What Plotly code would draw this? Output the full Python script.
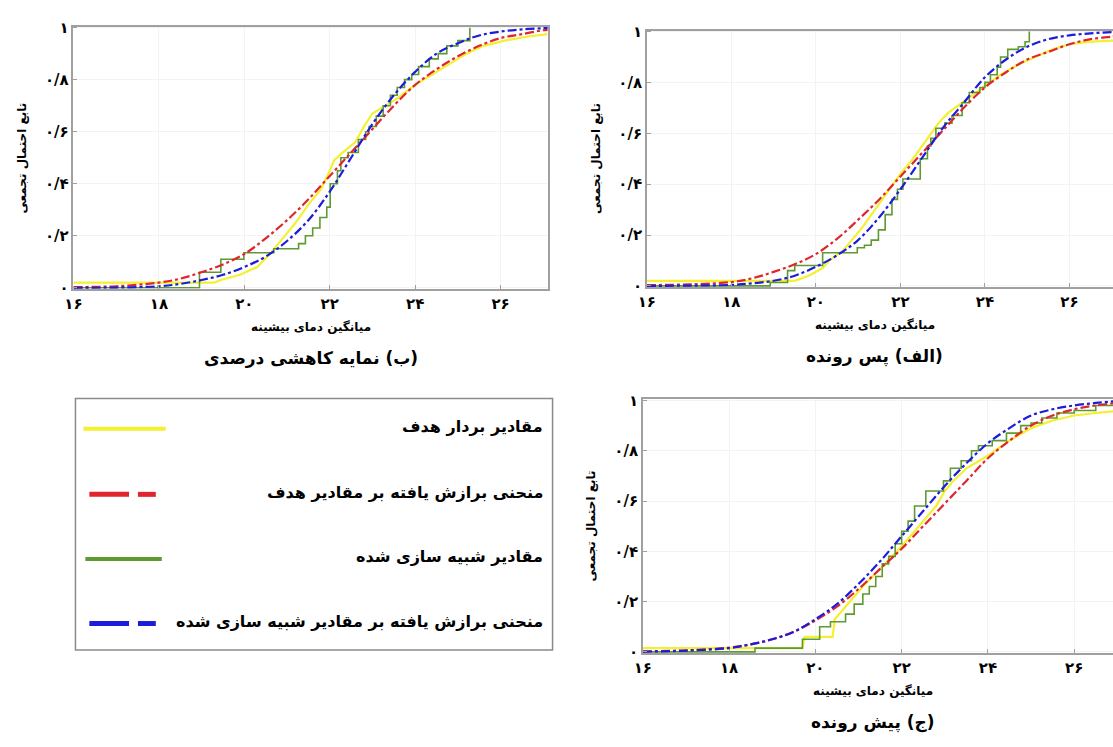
import plotly.graph_objects as go

W, H = 1113, 747
FONT = "DejaVu Sans"
RLM = "\u200F"

# ---------------- data ----------------
x_ticks = [16, 18, 20, 22, 24, 26]
x_ticktext = ["۱۶", "۱۸", "۲۰", "۲۲", "۲۴", "۲۶"]
y_ticks = [0, 0.2, 0.4, 0.6, 0.8, 1.0]
y_ticktext = ["۰", "۰/۲", "۰/۴", "۰/۶", "۰/۸", "۱"]

x_fit = [16, 17, 18, 18.5, 19, 19.5, 20, 20.5, 21, 21.5, 22, 22.5, 23, 23.5, 24, 24.5, 25, 25.5, 26, 26.5, 27, 27.2]

# panel (ب)
b_red = [0.003, 0.006, 0.02, 0.035, 0.06, 0.09, 0.13, 0.19, 0.26, 0.34, 0.43, 0.52, 0.61, 0.70, 0.78, 0.84, 0.89, 0.93, 0.96, 0.975, 0.99, 0.992]
b_blue = [0.0, 0.001, 0.006, 0.015, 0.03, 0.05, 0.08, 0.12, 0.18, 0.26, 0.37, 0.50, 0.63, 0.74, 0.83, 0.90, 0.94, 0.97, 0.985, 0.993, 0.998, 1.0]
b_green_x = [16, 18.95, 19.45, 19.99, 20.69, 21.27, 21.43, 21.6, 21.77, 21.93, 22.01, 22.18, 22.26, 22.43, 22.67, 22.84, 22.92, 23.09, 23.25, 23.42, 23.58, 23.75, 23.92, 24.08, 24.33, 24.54, 24.74, 25.0, 25.28]
b_green_y = [0, 0.06, 0.11, 0.135, 0.15, 0.17, 0.2, 0.23, 0.27, 0.31, 0.4, 0.45, 0.5, 0.52, 0.57, 0.6, 0.62, 0.66, 0.7, 0.74, 0.77, 0.8, 0.82, 0.85, 0.88, 0.9, 0.93, 0.95, 1.0]
b_yellow_x = [16, 19.3, 19.45, 19.9, 20.3, 20.6, 20.9, 21.2, 21.5, 21.8, 22.0, 22.1, 22.3, 22.6, 22.8, 23.0, 23.3, 23.6, 24.0, 24.4, 24.8, 25.2, 25.6, 26.1, 26.6, 27.1]
b_yellow_y = [0.02, 0.02, 0.03, 0.05, 0.08, 0.13, 0.19, 0.25, 0.32, 0.38, 0.45, 0.49, 0.52, 0.56, 0.62, 0.67, 0.7, 0.73, 0.78, 0.82, 0.86, 0.9, 0.93, 0.95, 0.965, 0.975]

# panel (الف)
a_red = [0.003, 0.006, 0.015, 0.03, 0.055, 0.085, 0.125, 0.185, 0.26, 0.34, 0.43, 0.52, 0.61, 0.70, 0.78, 0.84, 0.89, 0.92, 0.95, 0.97, 0.98, 0.985]
a_blue = [0.0, 0.001, 0.004, 0.01, 0.02, 0.04, 0.075, 0.12, 0.18, 0.27, 0.38, 0.50, 0.62, 0.72, 0.82, 0.89, 0.94, 0.97, 0.985, 0.993, 0.998, 1.0]
a_green_x = [16, 18.92, 19.33, 19.5, 20.16, 20.98, 21.15, 21.31, 21.48, 21.64, 21.8, 21.93, 22.06, 22.47, 22.64, 22.72, 22.84, 23.05, 23.22, 23.46, 23.63, 23.88, 24.0, 24.13, 24.29, 24.37, 24.54, 24.79, 24.95, 25.05]
a_green_y = [0, 0.013, 0.06, 0.08, 0.13, 0.15, 0.16, 0.18, 0.22, 0.28, 0.34, 0.38, 0.42, 0.5, 0.55, 0.58, 0.62, 0.64, 0.67, 0.72, 0.76, 0.78, 0.8, 0.83, 0.86, 0.9, 0.93, 0.94, 0.96, 1.0]
a_yellow_x = [16, 19.5, 19.83, 20.16, 20.32, 20.65, 20.8, 21.1, 21.4, 21.7, 22.0, 22.3, 22.6, 22.9, 23.13, 23.55, 23.97, 24.37, 24.79, 25.2, 25.6, 26.0, 26.5, 27.1]
a_yellow_y = [0.02, 0.02, 0.04, 0.07, 0.1, 0.14, 0.17, 0.23, 0.3, 0.37, 0.44, 0.5, 0.57, 0.64, 0.68, 0.73, 0.78, 0.83, 0.87, 0.9, 0.93, 0.95, 0.96, 0.965]

# panel (ج)
c_red = [0.002, 0.006, 0.017, 0.03, 0.05, 0.08, 0.125, 0.18, 0.25, 0.33, 0.41, 0.50, 0.59, 0.68, 0.77, 0.84, 0.90, 0.94, 0.965, 0.98, 0.99, 0.992]
c_blue = [0.001, 0.005, 0.015, 0.03, 0.05, 0.08, 0.13, 0.19, 0.27, 0.36, 0.46, 0.56, 0.66, 0.75, 0.83, 0.89, 0.94, 0.965, 0.98, 0.99, 0.997, 0.998]
c_green_x = [16, 18.6, 19.7, 20.1, 20.35, 20.7, 20.9, 21.1, 21.25, 21.4, 21.55, 21.7, 21.85, 22.0, 22.15, 22.3, 22.56, 22.97, 23.13, 23.38, 23.62, 23.78, 24.1, 24.43, 24.76, 25.0, 25.25, 25.6, 26.0, 26.5, 27.0]
c_green_y = [0, 0.015, 0.05, 0.1, 0.12, 0.15, 0.19, 0.23, 0.26, 0.3, 0.35, 0.38, 0.43, 0.48, 0.52, 0.58, 0.64, 0.68, 0.73, 0.76, 0.8, 0.82, 0.84, 0.87, 0.9, 0.91, 0.93, 0.95, 0.96, 0.98, 0.99]
c_yellow_x = [16, 19.7, 19.75, 20.4, 20.45, 20.8, 21.1, 21.5, 22.0, 22.5, 22.8, 23.0, 23.2, 23.5, 24.0, 24.5, 25.0, 25.5, 26.0, 26.5, 27.1]
c_yellow_y = [0.015, 0.015, 0.06, 0.06, 0.13, 0.2, 0.26, 0.33, 0.42, 0.52, 0.58, 0.64, 0.68, 0.73, 0.78, 0.84, 0.89, 0.92, 0.94, 0.95, 0.96]

panel_titles = ["(ب) نمایه کاهشی درصدی", "(الف) پس رونده", "(ج) پیش رونده"]
x_title = "میانگین دمای بیشینه"
y_title = "تابع احتمال تجمعی"
legend_labels = [
    "مقادیر بردار هدف",
    "منحنی برازش یافته بر مقادیر هدف",
    "مقادیر شبیه سازی شده",
    "منحنی برازش یافته بر مقادیر شبیه سازی شده",
]

# ---------------- styles ----------------
YELLOW = "#f4f030"
RED = "#e0262c"
GREEN = "#5e9a30"
BLUE = "#1c1cdc"
AXIS = "#a0a0a0"


def px(x):
    return x / W


def py(y):
    return 1 - y / H


# panel geometry in pixels: (left, right, top, bottom, xmax, mirror_y)
panels = [
    (65, 543, 19, 287, 27.1, True),
    (643, 1113, 23, 285, 27.03, False),
    (639, 1113, 400, 659, 26.9, False),
]

data_sets = [
    (b_yellow_x, b_yellow_y, b_green_x, b_green_y, b_red, b_blue),
    (a_yellow_x, a_yellow_y, a_green_x, a_green_y, a_red, a_blue),
    (c_yellow_x, c_yellow_y, c_green_x, c_green_y, c_red, c_blue),
]

fig = go.Figure()
annotations = []
shapes = []

for i, ((l, r, t, b, xmax, mir), (yx, yy, gx, gy, rd, bl)) in enumerate(zip(panels, data_sets)):
    n = "" if i == 0 else str(i + 1)
    xa, ya = "x" + n, "y" + n
    fig.add_trace(go.Scatter(x=yx, y=yy, mode="lines", line=dict(color=YELLOW, width=2.2),
                             xaxis=xa, yaxis=ya, showlegend=False))
    fig.add_trace(go.Scatter(x=gx, y=gy, mode="lines", line=dict(color=GREEN, width=1.6, shape="hv"),
                             xaxis=xa, yaxis=ya, showlegend=False))
    fig.add_trace(go.Scatter(x=x_fit, y=rd, mode="lines", line=dict(color=RED, width=2.2, dash="dashdot", shape="spline"),
                             xaxis=xa, yaxis=ya, showlegend=False))
    fig.add_trace(go.Scatter(x=x_fit, y=bl, mode="lines", line=dict(color=BLUE, width=2.2, dash="dashdot", shape="spline"),
                             xaxis=xa, yaxis=ya, showlegend=False))

    common = dict(showline=True, linecolor=AXIS, linewidth=1.5,
                  ticks="inside", ticklen=4, tickcolor=AXIS,
                  showgrid=True, gridcolor="#f3f3f3", zeroline=False,
                  tickfont=dict(family=FONT, size=15, color="black", weight="bold"))
    fig.layout["xaxis" + n] = dict(domain=[px(l), px(r)], range=[16, xmax], anchor=ya, mirror=True,
                                   tickvals=x_ticks, ticktext=x_ticktext, **common)
    fig.layout["yaxis" + n] = dict(domain=[py(b), py(t)], range=[-0.004, 1.004], anchor=xa, mirror=mir,
                                   tickvals=y_ticks, ticktext=y_ticktext, **common)

    cx = (l + r) / 2 if i == 0 else (l + 1113) / 2 - 5
    # x-axis title
    annotations.append(dict(x=px(cx), y=py(b + 39), xref="paper", yref="paper", text=x_title,
                            showarrow=False, font=dict(family=FONT, size=12, color="black", weight="bold"),
                            xanchor="center", yanchor="middle"))
    # panel caption
    annotations.append(dict(x=px(cx), y=py(b + 71), xref="paper", yref="paper",
                            text=RLM + panel_titles[i] + RLM,
                            showarrow=False, font=dict(family=FONT, size=17, color="black", weight="bold"),
                            xanchor="center", yanchor="middle"))
    # y-axis title
    annotations.append(dict(x=px(l - 52), y=py((t + b) / 2), xref="paper", yref="paper", text=y_title,
                            textangle=-90, showarrow=False,
                            font=dict(family=FONT, size=12, color="black", weight="bold"),
                            xanchor="center", yanchor="middle"))

# ---------------- legend box ----------------
shapes.append(dict(type="rect", xref="paper", yref="paper", x0=px(67), x1=px(548), y0=py(656), y1=py(399),
                   line=dict(color="#8a8a8a", width=1.5), fillcolor="rgba(0,0,0,0)"))
leg_y = [430, 497, 563, 629]
# yellow solid
shapes.append(dict(type="line", xref="paper", yref="paper", x0=px(75), x1=px(158), y0=py(leg_y[0]), y1=py(leg_y[0]),
                   line=dict(color=YELLOW, width=4)))
# red dashed
for a0, a1 in [(81, 121), (130, 148)]:
    shapes.append(dict(type="line", xref="paper", yref="paper", x0=px(a0), x1=px(a1), y0=py(leg_y[1]), y1=py(leg_y[1]),
                       line=dict(color=RED, width=5)))
# green solid
shapes.append(dict(type="line", xref="paper", yref="paper", x0=px(77), x1=px(154), y0=py(leg_y[2]), y1=py(leg_y[2]),
                   line=dict(color=GREEN, width=4)))
# blue dashed
for a0, a1 in [(81, 121), (130, 148)]:
    shapes.append(dict(type="line", xref="paper", yref="paper", x0=px(a0), x1=px(a1), y0=py(leg_y[3]), y1=py(leg_y[3]),
                       line=dict(color=BLUE, width=5)))
for lab, yy in zip(legend_labels, leg_y):
    annotations.append(dict(x=px(540), y=py(yy - 2), xref="paper", yref="paper", text=lab, showarrow=False,
                            font=dict(family=FONT, size=16, color="black", weight="bold"),
                            xanchor="right", yanchor="middle"))

fig.update_layout(
    width=W, height=H,
    margin=dict(l=0, r=0, t=0, b=0),
    paper_bgcolor="white", plot_bgcolor="white",
    annotations=annotations, shapes=shapes,
    showlegend=False,
)

fig.write_html("out.html")
